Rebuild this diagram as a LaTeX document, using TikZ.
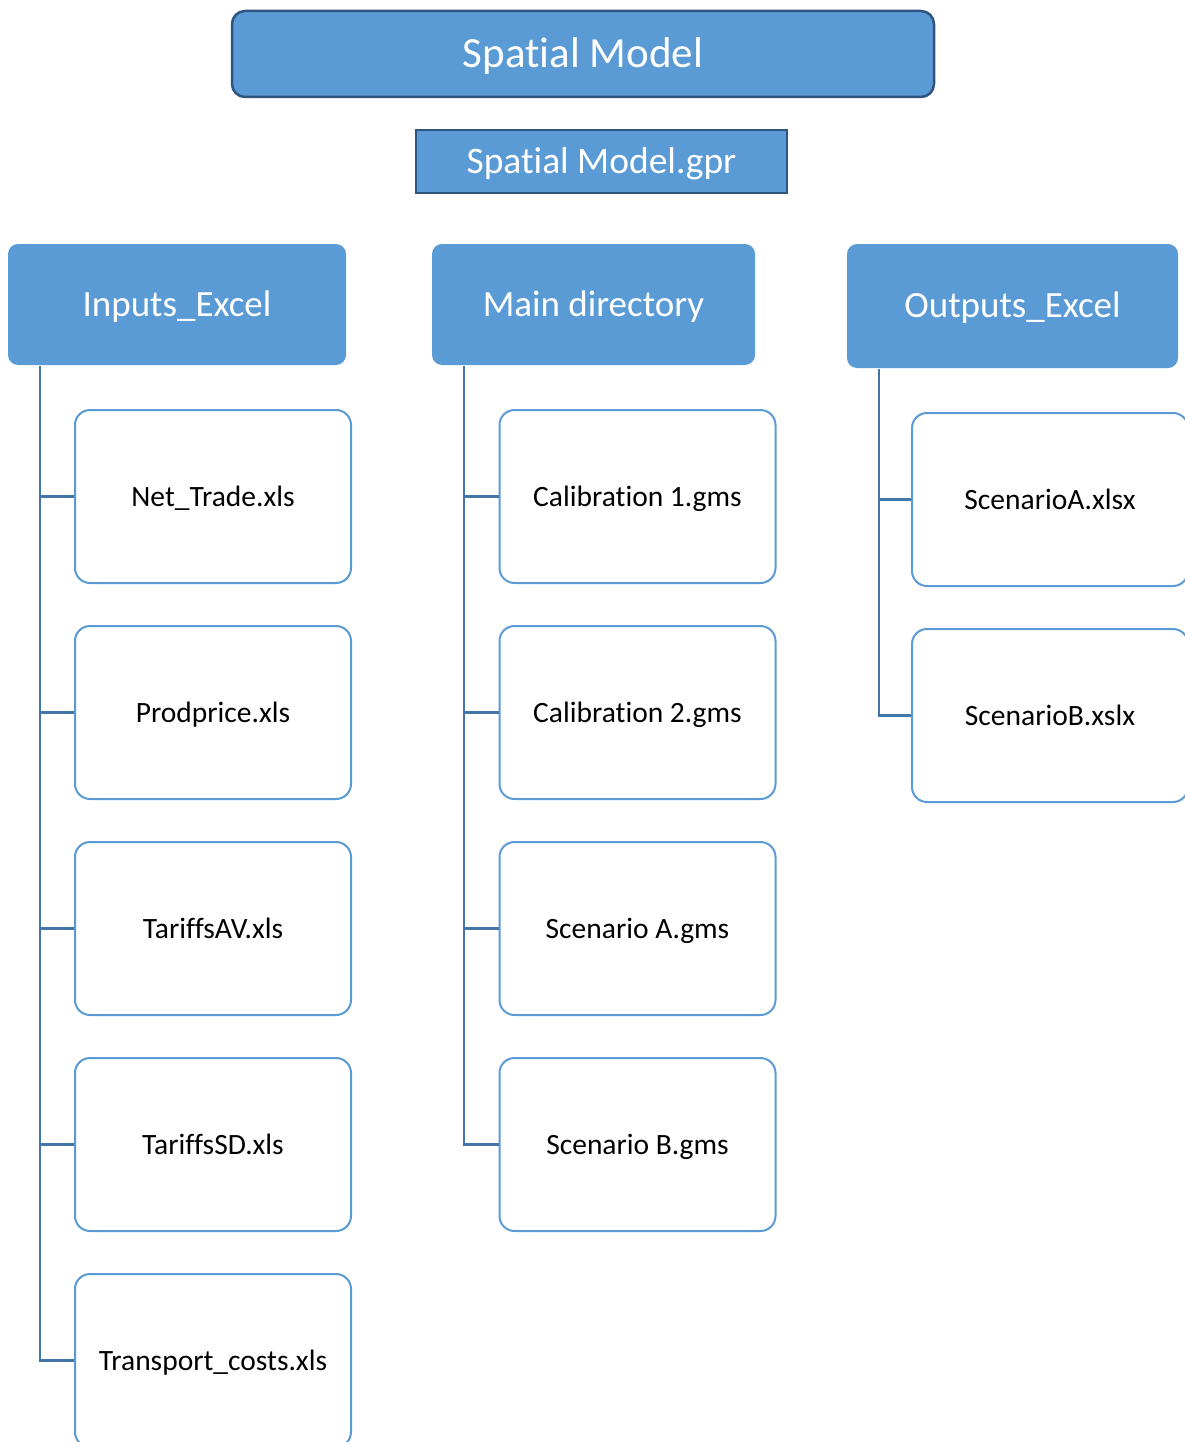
\documentclass[tikz,border=0pt]{standalone}
\usepackage{fontspec}
\setmainfont{Carlito}[Ligatures=CommonOff]
\definecolor{boxfill}{HTML}{5B9BD5}
\definecolor{boxedge}{HTML}{2F5481}
\definecolor{linkcol}{HTML}{4475A8}

\begin{document}
\begin{tikzpicture}[x=1pt,y=-1pt,
    title/.style={draw=boxedge,line width=2.5pt,fill=boxfill,rounded corners=13pt,text=white,
        minimum width=702pt,minimum height=86pt,inner sep=0pt,text height=27.7pt,text depth=0pt,
        font=\fontsize{43}{50}\selectfont},
    project/.style={draw=boxedge,line width=2pt,fill=boxfill,text=white,
        minimum width=371pt,minimum height=63pt,inner sep=0pt,text height=24.2pt,text depth=0pt,
        font=\fontsize{37.5}{43}\selectfont},
    folder/.style={fill=boxfill,rounded corners=10pt,text=white,minimum height=121pt,
        inner sep=0pt,text height=23.8pt,text depth=0pt,font=\fontsize{37}{42}\selectfont},
    file/.style={draw=boxfill,line width=2pt,fill=white,rounded corners=15pt,
        minimum width=276pt,minimum height=173pt,inner sep=0pt,text height=19pt,text depth=0pt,
        font=\fontsize{29.5}{34}\selectfont},
    link/.style={draw=linkcol,line width=2.5pt}]
    \useasboundingbox(0,0)rectangle(1185,1442);
    \clip(0,0)rectangle(1185,1442);

    \node[title](model)at(583,54){Spatial Model};
    \node[project](gpr)at(601.5,161.5){Spatial Model.gpr};

    \node[folder,minimum width=338pt](inp)at(177,304.5){Inputs\_Excel};
    \node[folder,minimum width=323pt](main)at(593.5,304.5){Main directory};
    \node[folder,minimum width=331pt,minimum height=124pt](out)at(1012.5,306){Outputs\_Excel};

    \node[file](inp1)at(213,496.5){Net\_Trade.xls};
    \node[file](inp2)at(213,712.5){Prodprice.xls};
    \node[file](inp3)at(213,928.5){TariffsAV.xls};
    \node[file](inp4)at(213,1144.5){TariffsSD.xls};
    \node[file](inp5)at(213,1360.5){Transport\_costs.xls};

    \node[file](main1)at(637.5,496.5){Calibration 1.gms};
    \node[file](main2)at(637.5,712.5){Calibration 2.gms};
    \node[file](main3)at(637.5,928.5){Scenario A.gms};
    \node[file](main4)at(637.5,1144.5){Scenario B.gms};

    \node[file](out1)at(1050,499.5){ScenarioA.xlsx};
    \node[file](out2)at(1050,715.5){ScenarioB.xslx};

    \coordinate(inpTop)at(40,366);
    \coordinate(mainTop)at(464,366);
    \coordinate(outTop)at(879,369);

    \draw[link](inpTop)|-(inp5.west);
    \foreach \n in {inp1,inp2,inp3,inp4}
        \draw[link](inpTop|-\n.west)--(\n.west);
    \draw[link](mainTop)|-(main4.west);
    \foreach \n in {main1,main2,main3}
        \draw[link](mainTop|-\n.west)--(\n.west);
    \draw[link](outTop)|-(out2.west);
    \draw[link](outTop|-out1.west)--(out1.west);
\end{tikzpicture}
\end{document}
